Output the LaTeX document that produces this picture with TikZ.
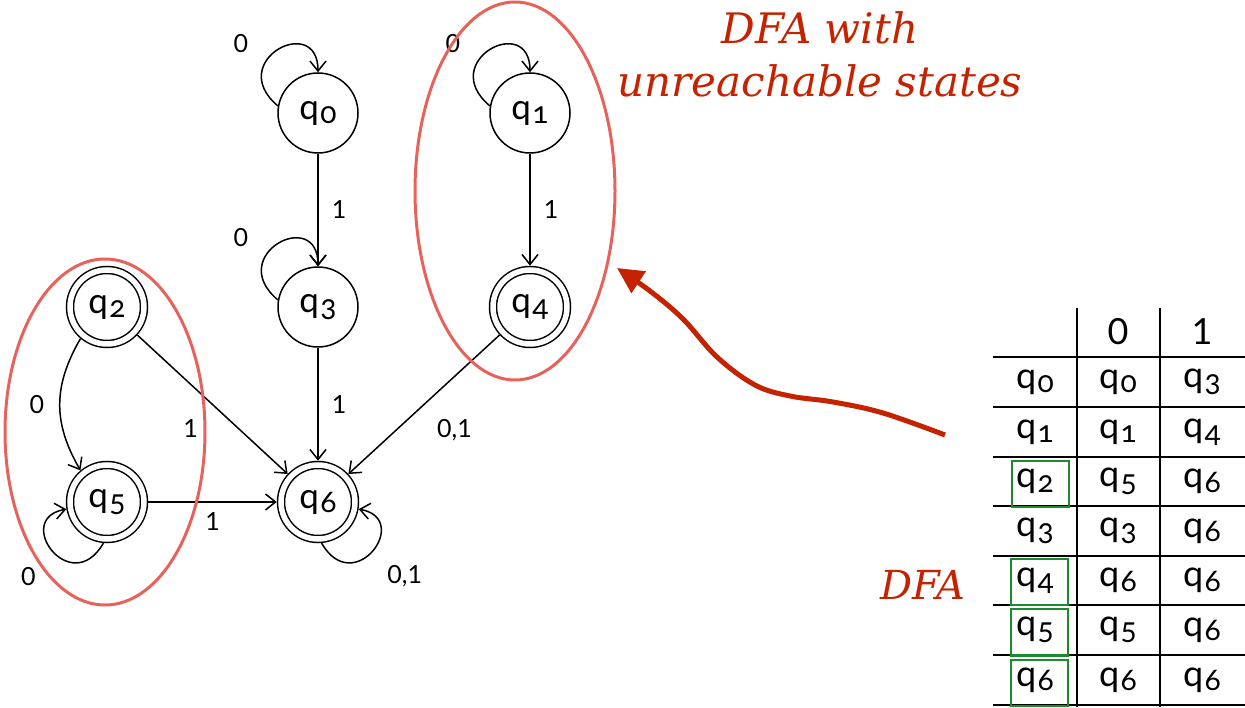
\documentclass[tikz,border=0pt]{standalone}
\usepackage{fontspec}
\setmainfont{Lato}
\newfontfamily\subdigits[Numbers=OldStyle]{Lato}
\newfontfamily\notefont{DejaVu Serif}
\usetikzlibrary{arrows.meta}

\definecolor{ringred}{HTML}{E8625C}
\definecolor{notered}{HTML}{C42200}
\definecolor{markgreen}{HTML}{1E8A30}

% state name: q with a lowered index in old-style figures
\newcommand\stname[1]{q\kern1.5pt\lower4.5pt\hbox{\subdigits\fontsize{30}{30}\selectfont #1}}

\tikzset{
  stbase/.style={circle, draw, line width=1.5pt, inner sep=0pt,
    font=\fontsize{35}{35}\selectfont},
  plainstate/.style={stbase, minimum size=80pt},
  finalstate/.style={stbase, minimum size=74pt, double, double distance=5.5pt, outer sep=4.3pt},
  trans/.style={line width=1.5pt, -{Straight Barb[length=10pt,width=16pt]}},
  elab/.style={font=\fontsize{25}{25}\selectfont, inner sep=2pt},
  ring/.style={draw=ringred, line width=3pt},
  cell/.style={inner sep=0pt, font=\fontsize{36}{36}\selectfont},
  greenbox/.style={draw=markgreen, line width=2pt, minimum width=57pt, minimum height=46pt},
  tablerule/.style={line width=1.8pt},
  notetext/.style={text=notered, font=\notefont\itshape\fontsize{42}{53}\selectfont, align=center},
}

\begin{document}
\begin{tikzpicture}[x=1pt,y=1pt]
\useasboundingbox (0,0) rectangle (1245,707);

% states
\node[plainstate] (q0) at (318,594) {\stname{0}};
\node[plainstate] (q1) at (530,594) {\stname{1}};
\node[finalstate] (q2) at (107,400) {\stname{2}};
\node[plainstate] (q3) at (318,400) {\stname{3}};
\node[finalstate] (q4) at (530,400) {\stname{4}};
\node[finalstate] (q5) at (107,205) {\stname{5}};
\node[finalstate] (q6) at (318,205) {\stname{6}};

% self loops
\draw[trans] (q0.170) .. controls +(140:70) and +(90:60) .. (q0.north)
  node[elab, pos=0.3, above left=12pt] {0};
\draw[trans] (q1.170) .. controls +(140:70) and +(90:60) .. (q1.north)
  node[elab, pos=0.3, above left=12pt] {0};
\draw[trans] (q3.170) .. controls +(140:70) and +(90:60) .. (q3.north)
  node[elab, pos=0.3, above left=12pt] {0};
\draw[trans] (q5.265) .. controls +(240:65) and +(190:55) .. (q5.190)
  node[elab, pos=0.5, below left=14pt] {0};
\draw[trans] (q6.275) .. controls +(300:65) and +(350:55) .. (q6.350)
  node[elab, pos=0.5, below right=12pt] {0,1};

% transitions
\draw[trans] (q0) -- node[elab, right=11pt] {1} (q3);
\draw[trans] (q1) -- node[elab, right=11pt] {1} (q4);
\draw[trans] (q3) -- node[elab, right=11pt] {1} (q6);
\draw[trans] (q2.230) .. controls +(240:55) and +(120:55) .. (q5.130)
  node[elab, pos=0.5, left=13pt] {0};
\draw[trans] (q2) -- node[elab, pos=0.5, xshift=-22pt, yshift=-24pt] {1} (q6);
\draw[trans] (q5) -- node[elab, below=8pt] {1} (q6);
\draw[trans] (q4) -- node[elab, pos=0.47, xshift=26pt, yshift=-30pt] {0,1} (q6);

% groups of unreachable states
\draw[ring] (105,275) ellipse [x radius=100, y radius=173];
\draw[ring] (515,516) ellipse [x radius=100, y radius=189];

% captions
\node[notetext] (title) at (820,653) {DFA with\\unreachable states};
\node[notetext, font=\notefont\itshape\fontsize{40}{40}\selectfont] (dfa) at (923,122) {DFA};

% pointer from the table to the unreachable group
\coordinate (pfrom) at (945,272);
\coordinate (pto) at (617,439);
\draw[notered, line width=5pt, -{Triangle[length=26pt,width=25pt]}]
  plot[smooth, tension=0.6] coordinates
  {(pfrom) (883,294) (833,305) (790,311) (755,322) (717,350) (683,388) (650,416) (pto)};

% transition table
\foreach \y in {350,300,250,201,151,102,52,2}
  \draw[tablerule] (993,\y) -- (1245,\y);
\draw[tablerule] (1077,399) -- (1077,0);
\draw[tablerule] (1160,399) -- (1160,0);

\node[cell, font=\fontsize{36}{36}\selectfont] (h0) at (1118,375) {0};
\node[cell, font=\fontsize{36}{36}\selectfont] (h1) at (1202,375) {1};

\node[cell] (r0) at (1035,325) {\stname{0}};
\node[cell] (r0a) at (1118,325) {\stname{0}};
\node[cell] (r0b) at (1202,325) {\stname{3}};

\node[cell] (r1) at (1035,275) {\stname{1}};
\node[cell] (r1a) at (1118,275) {\stname{1}};
\node[cell] (r1b) at (1202,275) {\stname{4}};

\node[cell] (r2) at (1035,225.5) {\stname{2}};
\node[cell] (r2a) at (1118,225.5) {\stname{5}};
\node[cell] (r2b) at (1202,225.5) {\stname{6}};

\node[cell] (r3) at (1035,176) {\stname{3}};
\node[cell] (r3a) at (1118,176) {\stname{3}};
\node[cell] (r3b) at (1202,176) {\stname{6}};

\node[cell] (r4) at (1035,126.5) {\stname{4}};
\node[cell] (r4a) at (1118,126.5) {\stname{6}};
\node[cell] (r4b) at (1202,126.5) {\stname{6}};

\node[cell] (r5) at (1035,77) {\stname{5}};
\node[cell] (r5a) at (1118,77) {\stname{5}};
\node[cell] (r5b) at (1202,77) {\stname{6}};

\node[cell] (r6) at (1035,27) {\stname{6}};
\node[cell] (r6a) at (1118,27) {\stname{6}};
\node[cell] (r6b) at (1202,27) {\stname{6}};

% accepting states marked in the table
\node[greenbox] (m2) at (1040,223) {};
\node[greenbox] (m4) at (1039,125) {};
\node[greenbox] (m5) at (1039,74.5) {};
\node[greenbox] (m6) at (1039,24.5) {};
\end{tikzpicture}
\end{document}
